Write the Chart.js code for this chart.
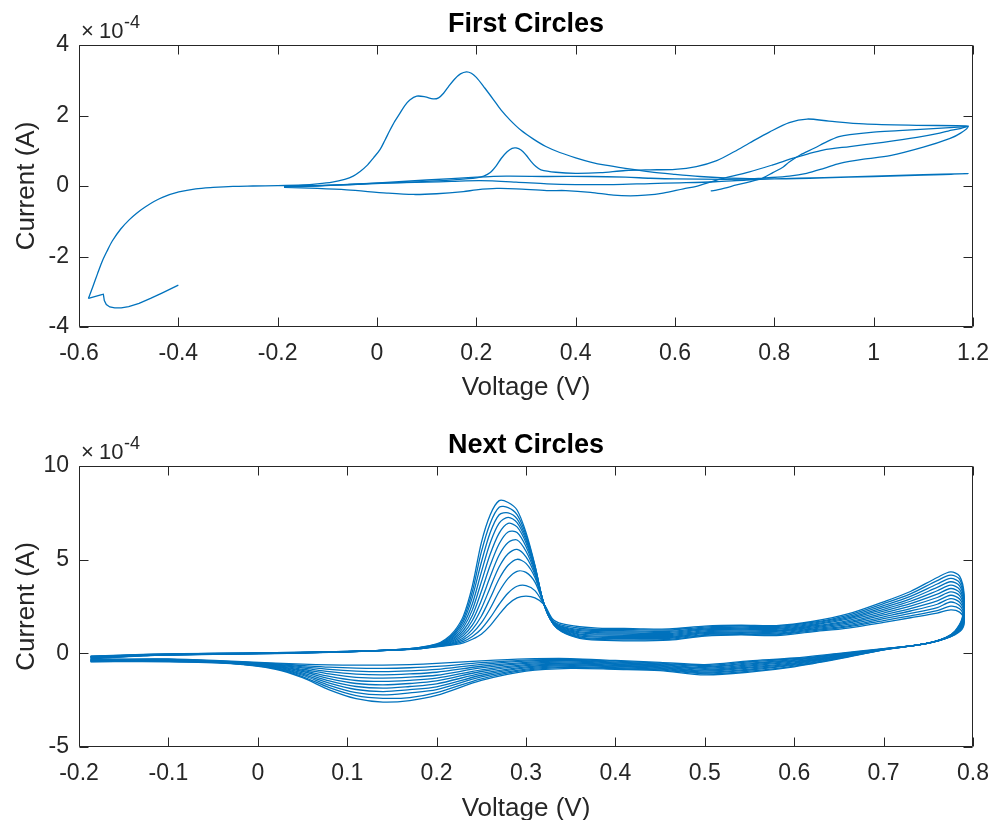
<!DOCTYPE html>
<html>
<head>
<meta charset="utf-8">
<title>Cyclic voltammetry</title>
<script src="https://cdn.jsdelivr.net/npm/chart.js@4.4.1/dist/chart.umd.min.js"></script>
<style>
  html, body { margin: 0; padding: 0; background: #fff; }
  #figura { position: relative; width: 992px; height: 820px; overflow: hidden; background: #fff; }
  #figura canvas { position: absolute; left: 0; }
</style>
</head>
<body>
<div id="figura">
  <canvas id="grafico-primeiros" width="992" height="410" style="top:0"></canvas>
  <canvas id="grafico-seguintes" width="992" height="410" style="top:421px"></canvas>
</div>
<script>
// Correntes em unidades de 1e-4 A, tensões em V

// --- Primeiros ciclos: [tensão, corrente] ---
// cauda catódica do início da varredura (segmento sem suavização)
const primeiraCauda = [
    [-0.400, -2.81], [-0.432, -3.03], [-0.456, -3.19], [-0.479, -3.33], [-0.500, -3.42],
    [-0.515, -3.46], [-0.528, -3.46], [-0.538, -3.43], [-0.545, -3.36], [-0.549, -3.25],
    [-0.551, -3.07], [-0.556, -3.09], [-0.581, -3.19]
];

// ciclo 1: subida desde -0.58 V até 1.19 V e volta até -0.19 V
const primeiroCiclo = [
    [-0.581, -3.19], [-0.572, -2.85], [-0.563, -2.50], [-0.554, -2.16], [-0.544, -1.86],
    [-0.533, -1.56], [-0.516, -1.22], [-0.499, -0.96], [-0.482, -0.75], [-0.466, -0.59],
    [-0.449, -0.44], [-0.432, -0.32], [-0.399, -0.17], [-0.365, -0.08], [-0.330, -0.04],
    [-0.290, -0.01], [-0.250, 0.00], [-0.200, 0.01], [-0.150, 0.03], [-0.120, 0.06],
    [-0.090, 0.11], [-0.065, 0.19], [-0.048, 0.28], [-0.034, 0.41], [-0.021, 0.57],
    [-0.007, 0.80], [0.006, 1.03], [0.016, 1.30], [0.026, 1.58], [0.036, 1.84],
    [0.046, 2.06], [0.056, 2.28], [0.066, 2.44], [0.080, 2.55], [0.097, 2.53],
    [0.113, 2.47], [0.124, 2.50], [0.134, 2.63], [0.144, 2.82], [0.156, 3.03],
    [0.168, 3.18], [0.180, 3.24], [0.190, 3.20], [0.200, 3.08], [0.217, 2.78],
    [0.234, 2.46], [0.250, 2.15], [0.268, 1.87], [0.290, 1.58], [0.315, 1.33],
    [0.340, 1.12], [0.368, 0.95], [0.400, 0.80], [0.430, 0.68], [0.460, 0.59],
    [0.500, 0.50], [0.550, 0.40], [0.600, 0.33], [0.650, 0.27], [0.700, 0.23],
    [0.750, 0.21], [0.800, 0.20], [0.900, 0.23], [1.000, 0.27], [1.100, 0.31],
    [1.190, 0.35], [1.100, 0.32], [1.000, 0.28], [0.900, 0.24], [0.800, 0.20],
    [0.744, 0.17], [0.680, 0.12], [0.610, 0.09], [0.550, 0.07], [0.476, 0.04],
    [0.400, 0.04], [0.342, 0.06], [0.280, 0.11], [0.207, 0.15], [0.150, 0.13],
    [0.100, 0.11], [0.006, 0.08], [-0.060, 0.04], [-0.120, 0.01], [-0.187, -0.02]
];

// ciclo 2: pico pequeno em 0.28 V e pico largo em 0.87 V
const segundoCiclo = [
    [-0.187, -0.02], [-0.120, 0.01], [-0.050, 0.04], [0.020, 0.08], [0.100, 0.13],
    [0.160, 0.18], [0.200, 0.23], [0.215, 0.28], [0.228, 0.38], [0.240, 0.57],
    [0.250, 0.78], [0.262, 0.97], [0.272, 1.07], [0.280, 1.08], [0.290, 1.02],
    [0.300, 0.88], [0.310, 0.70], [0.320, 0.55], [0.330, 0.46], [0.360, 0.39],
    [0.400, 0.36], [0.450, 0.38], [0.500, 0.44], [0.550, 0.46], [0.600, 0.47],
    [0.643, 0.55], [0.684, 0.72], [0.720, 0.98], [0.750, 1.22], [0.790, 1.53],
    [0.830, 1.80], [0.866, 1.90], [0.910, 1.84], [0.980, 1.76], [1.087, 1.72],
    [1.190, 1.70], [1.174, 1.63], [1.150, 1.56], [1.133, 1.50], [1.087, 1.38],
    [1.019, 1.24], [0.952, 1.12], [0.898, 1.02], [0.865, 0.90], [0.838, 0.79],
    [0.797, 0.60], [0.750, 0.40], [0.684, 0.17], [0.643, -0.01], [0.617, -0.08],
    [0.576, -0.20], [0.540, -0.26], [0.510, -0.28], [0.476, -0.26], [0.430, -0.18],
    [0.380, -0.13], [0.342, -0.13], [0.280, -0.08], [0.241, -0.07], [0.200, -0.11],
    [0.174, -0.16], [0.120, -0.22], [0.073, -0.24], [0.020, -0.20], [-0.061, -0.11],
    [-0.120, -0.07], [-0.187, -0.04]
];

// ciclo 3: termina na volta, perto de 0.67 V
const terceiroCiclo = [
    [-0.187, -0.04], [-0.120, 0.00], [-0.050, 0.05], [0.020, 0.10], [0.100, 0.17],
    [0.200, 0.25], [0.260, 0.28], [0.342, 0.27], [0.430, 0.27], [0.500, 0.25],
    [0.550, 0.22], [0.600, 0.20], [0.700, 0.19], [0.750, 0.20], [0.783, 0.23],
    [0.830, 0.28], [0.865, 0.36], [0.900, 0.50], [0.932, 0.64], [0.980, 0.76],
    [1.033, 0.86], [1.100, 1.10], [1.154, 1.35], [1.175, 1.50], [1.190, 1.68],
    [1.170, 1.67], [1.120, 1.63], [1.050, 1.57], [1.000, 1.53], [0.952, 1.46],
    [0.930, 1.40], [0.906, 1.26], [0.880, 1.07], [0.852, 0.88], [0.830, 0.68],
    [0.818, 0.54], [0.797, 0.38], [0.777, 0.23], [0.750, 0.12], [0.724, 0.03],
    [0.700, -0.06], [0.685, -0.11], [0.674, -0.14], [0.672, -0.13]
];

// --- Ciclos seguintes: mesma rampa de tensão para todos ---
const tensaoSeguintes = [
    // ida
    -0.187, -0.12, -0.05, 0.02, 0.10, 0.15, 0.18,
    0.20, 0.21, 0.22, 0.23, 0.24, 0.25, 0.26, 0.27, 0.28, 0.29, 0.30, 0.31, 0.32, 0.33, 0.34, 0.36, 0.38,
    0.42, 0.46, 0.50, 0.54, 0.58, 0.62, 0.66, 0.70, 0.73, 0.76, 0.775, 0.785, 0.79,
    // volta
    0.788, 0.78, 0.77, 0.755, 0.735, 0.70, 0.65, 0.60, 0.55, 0.50, 0.45, 0.40, 0.35,
    0.30, 0.25, 0.20, 0.17, 0.14, 0.11, 0.08, 0.05, 0.02, -0.03, -0.10, -0.187
];

const ciclo01 = [
    -0.15, -0.05, 0.00, 0.03, 0.10, 0.17, 0.24,
    0.35, 0.40, 0.46, 0.56, 0.75, 1.02, 1.48, 2.08, 2.62, 2.96, 3.05, 2.96, 2.62, 1.82, 1.58, 1.42, 1.35,
    1.32, 1.30, 1.45, 1.50, 1.48, 1.70, 2.10, 2.75, 3.30, 4.05, 4.35, 4.12, 3.15,
    1.90, 1.20, 0.85, 0.60, 0.42, 0.25, 0.00, -0.25, -0.40, -0.60, -0.48, -0.38, -0.28,
    -0.30, -0.40, -0.54, -0.60, -0.63, -0.63, -0.62, -0.58, -0.52, -0.42, -0.30, -0.33
];
const ciclo02 = [
    -0.16, -0.06, -0.01, 0.03, 0.10, 0.17, 0.25,
    0.36, 0.42, 0.50, 0.64, 0.90, 1.30, 1.90, 2.62, 3.22, 3.58, 3.62, 3.35, 2.62, 1.75, 1.50, 1.34, 1.28,
    1.26, 1.24, 1.40, 1.45, 1.43, 1.65, 2.03, 2.65, 3.17, 3.88, 4.17, 3.96, 3.02,
    1.85, 1.18, 0.85, 0.60, 0.42, 0.24, -0.03, -0.29, -0.45, -0.65, -0.52, -0.42, -0.33,
    -0.36, -0.50, -0.70, -0.77, -0.80, -0.79, -0.74, -0.65, -0.55, -0.44, -0.32, -0.34
];
const ciclo03 = [
    -0.17, -0.07, -0.01, 0.02, 0.10, 0.17, 0.25,
    0.37, 0.44, 0.55, 0.73, 1.08, 1.62, 2.40, 3.30, 4.00, 4.38, 4.32, 3.80, 2.64, 1.70, 1.44, 1.27, 1.22,
    1.20, 1.18, 1.35, 1.40, 1.38, 1.60, 1.96, 2.55, 3.04, 3.70, 4.00, 3.78, 2.90,
    1.79, 1.16, 0.84, 0.60, 0.42, 0.24, -0.05, -0.34, -0.51, -0.70, -0.56, -0.47, -0.37,
    -0.42, -0.59, -0.86, -0.94, -0.98, -0.95, -0.86, -0.72, -0.58, -0.45, -0.33, -0.35
];
const ciclo04 = [
    -0.18, -0.07, -0.02, 0.02, 0.09, 0.17, 0.25,
    0.38, 0.46, 0.60, 0.83, 1.28, 1.98, 2.95, 3.98, 4.70, 5.02, 4.80, 4.05, 2.65, 1.66, 1.40, 1.21, 1.16,
    1.14, 1.12, 1.30, 1.35, 1.33, 1.55, 1.89, 2.45, 2.91, 3.52, 3.82, 3.60, 2.78,
    1.74, 1.15, 0.84, 0.60, 0.42, 0.23, -0.08, -0.38, -0.56, -0.75, -0.60, -0.51, -0.42,
    -0.48, -0.69, -1.01, -1.10, -1.15, -1.11, -0.98, -0.78, -0.61, -0.46, -0.34, -0.36
];
const ciclo05 = [
    -0.19, -0.08, -0.02, 0.02, 0.09, 0.17, 0.26,
    0.39, 0.49, 0.66, 0.95, 1.50, 2.38, 3.52, 4.62, 5.32, 5.55, 5.15, 4.20, 2.66, 1.63, 1.36, 1.15, 1.10,
    1.08, 1.06, 1.25, 1.30, 1.28, 1.50, 1.82, 2.35, 2.78, 3.34, 3.64, 3.42, 2.66,
    1.68, 1.13, 0.83, 0.60, 0.42, 0.22, -0.11, -0.42, -0.62, -0.80, -0.64, -0.55, -0.47,
    -0.54, -0.78, -1.17, -1.27, -1.32, -1.28, -1.10, -0.85, -0.64, -0.47, -0.35, -0.37
];
const ciclo06 = [
    -0.20, -0.08, -0.03, 0.01, 0.09, 0.17, 0.26,
    0.40, 0.52, 0.72, 1.08, 1.75, 2.82, 4.10, 5.25, 5.92, 6.05, 5.45, 4.32, 2.66, 1.62, 1.32, 1.09, 1.04,
    1.02, 1.00, 1.20, 1.25, 1.23, 1.45, 1.75, 2.25, 2.65, 3.16, 3.46, 3.25, 2.54,
    1.63, 1.11, 0.83, 0.60, 0.42, 0.22, -0.14, -0.46, -0.67, -0.85, -0.68, -0.59, -0.52,
    -0.60, -0.88, -1.32, -1.44, -1.50, -1.45, -1.23, -0.91, -0.67, -0.48, -0.36, -0.38
];
const ciclo07 = [
    -0.21, -0.09, -0.03, 0.01, 0.09, 0.17, 0.27,
    0.42, 0.55, 0.79, 1.22, 2.02, 3.30, 4.70, 5.85, 6.48, 6.45, 5.70, 4.42, 2.66, 1.61, 1.29, 1.03, 0.98,
    0.96, 0.95, 1.15, 1.20, 1.18, 1.40, 1.68, 2.15, 2.52, 2.98, 3.28, 3.08, 2.42,
    1.57, 1.09, 0.82, 0.60, 0.42, 0.21, -0.16, -0.51, -0.73, -0.90, -0.72, -0.64, -0.56,
    -0.66, -0.97, -1.47, -1.61, -1.68, -1.61, -1.35, -0.97, -0.70, -0.50, -0.37, -0.39
];
const ciclo08 = [
    -0.22, -0.09, -0.03, 0.01, 0.09, 0.18, 0.27,
    0.43, 0.58, 0.86, 1.38, 2.32, 3.80, 5.30, 6.42, 6.94, 6.75, 5.90, 4.50, 2.65, 1.61, 1.26, 0.98, 0.92,
    0.90, 0.90, 1.10, 1.15, 1.13, 1.35, 1.61, 2.05, 2.39, 2.80, 3.10, 2.90, 2.30,
    1.52, 1.07, 0.82, 0.60, 0.42, 0.21, -0.19, -0.55, -0.78, -0.95, -0.76, -0.68, -0.61,
    -0.72, -1.07, -1.63, -1.77, -1.86, -1.77, -1.47, -1.04, -0.73, -0.51, -0.38, -0.40
];
const ciclo09 = [
    -0.24, -0.10, -0.04, 0.00, 0.09, 0.18, 0.28,
    0.44, 0.61, 0.94, 1.54, 2.65, 4.32, 5.90, 6.95, 7.26, 6.98, 6.05, 4.56, 2.64, 1.61, 1.23, 0.93, 0.86,
    0.84, 0.85, 1.05, 1.10, 1.08, 1.30, 1.54, 1.95, 2.26, 2.62, 2.92, 2.73, 2.18,
    1.46, 1.05, 0.81, 0.60, 0.42, 0.20, -0.22, -0.59, -0.84, -1.00, -0.80, -0.72, -0.66,
    -0.78, -1.17, -1.79, -1.94, -2.04, -1.93, -1.59, -1.11, -0.76, -0.52, -0.40, -0.41
];
const ciclo10 = [
    -0.26, -0.10, -0.04, 0.00, 0.08, 0.18, 0.29,
    0.46, 0.65, 1.02, 1.70, 3.00, 4.85, 6.45, 7.40, 7.50, 7.18, 6.18, 4.62, 2.63, 1.60, 1.20, 0.88, 0.80,
    0.78, 0.80, 1.00, 1.05, 1.03, 1.25, 1.47, 1.85, 2.13, 2.44, 2.74, 2.55, 2.05,
    1.41, 1.04, 0.81, 0.60, 0.42, 0.19, -0.25, -0.63, -0.89, -1.05, -0.84, -0.77, -0.71,
    -0.84, -1.26, -1.94, -2.11, -2.22, -2.10, -1.71, -1.17, -0.79, -0.53, -0.42, -0.43
];
const ciclo11 = [
    -0.28, -0.11, -0.05, 0.00, 0.08, 0.18, 0.30,
    0.48, 0.70, 1.10, 1.85, 3.30, 5.40, 6.95, 7.80, 7.78, 7.40, 6.32, 4.66, 2.62, 1.60, 1.17, 0.84, 0.75,
    0.72, 0.75, 0.96, 1.01, 0.99, 1.20, 1.41, 1.75, 2.00, 2.28, 2.52, 2.38, 1.92,
    1.35, 1.02, 0.80, 0.60, 0.42, 0.19, -0.27, -0.68, -0.95, -1.10, -0.88, -0.81, -0.75,
    -0.90, -1.36, -2.10, -2.36, -2.40, -2.26, -1.83, -1.24, -0.82, -0.54, -0.43, -0.44
];
const ciclo12 = [
    -0.30, -0.12, -0.05, -0.01, 0.08, 0.19, 0.31,
    0.50, 0.75, 1.20, 2.00, 3.60, 5.90, 7.40, 8.15, 8.05, 7.65, 6.45, 4.70, 2.60, 1.60, 1.15, 0.80, 0.70,
    0.66, 0.70, 0.92, 0.98, 0.95, 1.15, 1.35, 1.65, 1.90, 2.15, 2.32, 2.20, 1.80,
    1.30, 1.00, 0.80, 0.60, 0.42, 0.18, -0.30, -0.72, -1.00, -1.15, -0.92, -0.85, -0.80,
    -0.95, -1.45, -2.25, -2.52, -2.60, -2.42, -1.95, -1.30, -0.85, -0.55, -0.45, -0.45
];
const ciclosSeguintes = [ciclo01, ciclo02, ciclo03, ciclo04, ciclo05, ciclo06,
    ciclo07, ciclo08, ciclo09, ciclo10, ciclo11, ciclo12];

// Eixos
const ticksTensaoPrimeiros = [-0.6, 1.2, 0.2];   // min, max, passo
const ticksCorrentePrimeiros = [-4, 4, 2];
const ticksTensaoSeguintes = [-0.2, 0.8, 0.1];
const ticksCorrenteSeguintes = [-5, 10, 5];

const AZUL = '#0072BD';
const CINZA = '#262626';
const FONTE = '"Liberation Sans", Arial, Helvetica, sans-serif';

Chart.defaults.font.family = FONTE;

// caixa fechada com marcas de escala para dentro, título centrado nos eixos e o fator x10^-4
const caixaEixos = {
    id: 'caixaEixos',
    afterDraw(chart, args, opts) {
        const { ctx, chartArea: a, scales: { x, y } } = chart;
        const esq = Math.round(a.left) + 0.5;
        const dir = Math.round(a.right) - 0.5;
        const topo = Math.round(a.top) + 0.5;
        const base = Math.round(a.bottom) - 0.5;
        const tam = 9;

        ctx.save();
        ctx.strokeStyle = CINZA;
        ctx.lineWidth = 1;
        ctx.beginPath();
        ctx.rect(esq, topo, dir - esq, base - topo);

        x.ticks.forEach(t => {
            const px = Math.round(x.getPixelForValue(t.value)) + 0.5;
            ctx.moveTo(px, base); ctx.lineTo(px, base - tam);
            ctx.moveTo(px, topo); ctx.lineTo(px, topo + tam);
        });
        y.ticks.forEach(t => {
            const py = Math.round(y.getPixelForValue(t.value)) + 0.5;
            ctx.moveTo(esq, py); ctx.lineTo(esq + tam, py);
            ctx.moveTo(dir, py); ctx.lineTo(dir - tam, py);
        });
        ctx.stroke();

        // título
        ctx.fillStyle = '#000';
        ctx.textAlign = 'center';
        ctx.textBaseline = 'middle';
        ctx.font = 'bold 27px ' + FONTE;
        ctx.fillText(opts.titulo, (a.left + a.right) / 2, a.top - 20);

        // fator de escala da corrente
        ctx.fillStyle = CINZA;
        ctx.textBaseline = 'alphabetic';
        ctx.textAlign = 'left';
        const linha = a.top - 7;
        ctx.font = '22px ' + FONTE;
        ctx.fillText('\u00d7', a.left + 2, linha);
        ctx.fillText('10', a.left + 20, linha);
        ctx.font = '18px ' + FONTE;
        ctx.fillText('-4', a.left + 45, linha - 10);
        ctx.restore();
    }
};

function estiloLinha(pontos, tensao) {
    return {
        data: pontos,
        borderColor: AZUL,
        backgroundColor: AZUL,
        borderWidth: 1.3,
        pointRadius: 0,
        showLine: true,
        fill: false,
        tension: tensao
    };
}

function criarGrafico(id, titulo, datasets, ticksX, ticksY, alturaX) {
    const ctx = document.getElementById(id);
    return new Chart(ctx, {
        type: 'scatter',
        data: { datasets: datasets },
        options: {
            responsive: false,
            animation: false,
            devicePixelRatio: 1,
            events: [],
            layout: { padding: { left: 0, right: 19, top: 45, bottom: 0 } },
            plugins: {
                legend: { display: false },
                tooltip: { enabled: false },
                title: { display: false },
                caixaEixos: { titulo: titulo }
            },
            scales: {
                x: {
                    type: 'linear',
                    min: ticksX[0],
                    max: ticksX[1],
                    ticks: {
                        stepSize: ticksX[2],
                        color: CINZA,
                        font: { size: 23 },
                        padding: 13,
                        maxRotation: 0,
                        autoSkip: false,
                        callback: v => String(Math.round(v * 10) / 10)
                    },
                    grid: { display: false, drawTicks: false },
                    border: { display: false },
                    title: {
                        display: true,
                        text: 'Voltage (V)',
                        color: CINZA,
                        font: { size: 26 },
                        padding: { top: 0, bottom: 7 }
                    },
                    afterFit: s => {
                        s.height = alturaX;
                        s.paddingLeft = 0;
                        s.paddingRight = 0;
                    }
                },
                y: {
                    type: 'linear',
                    min: ticksY[0],
                    max: ticksY[1],
                    ticks: {
                        stepSize: ticksY[2],
                        color: CINZA,
                        font: { size: 23 },
                        padding: 10,
                        callback: v => String(v)
                    },
                    grid: { display: false, drawTicks: false },
                    border: { display: false },
                    title: {
                        display: true,
                        text: 'Current (A)',
                        color: CINZA,
                        font: { size: 26 },
                        padding: { top: 11, bottom: 0 }
                    },
                    afterFit: s => { s.width = 79; }
                }
            }
        },
        plugins: [caixaEixos]
    });
}

const paraPontos = lista => lista.map(p => ({ x: p[0], y: p[1] }));

const dadosPrimeiros = [
    estiloLinha(paraPontos(primeiraCauda), 0),
    estiloLinha(paraPontos(primeiroCiclo), 0.3),
    estiloLinha(paraPontos(segundoCiclo), 0.3),
    estiloLinha(paraPontos(terceiroCiclo), 0.3)
];

const dadosSeguintes = ciclosSeguintes.map(correntes =>
    estiloLinha(correntes.map((c, i) => ({ x: tensaoSeguintes[i], y: c })), 0.3)
);

criarGrafico('grafico-primeiros', 'First Circles', dadosPrimeiros,
    ticksTensaoPrimeiros, ticksCorrentePrimeiros, 83);
criarGrafico('grafico-seguintes', 'Next Circles', dadosSeguintes,
    ticksTensaoSeguintes, ticksCorrenteSeguintes, 84);
</script>
</body>
</html>
